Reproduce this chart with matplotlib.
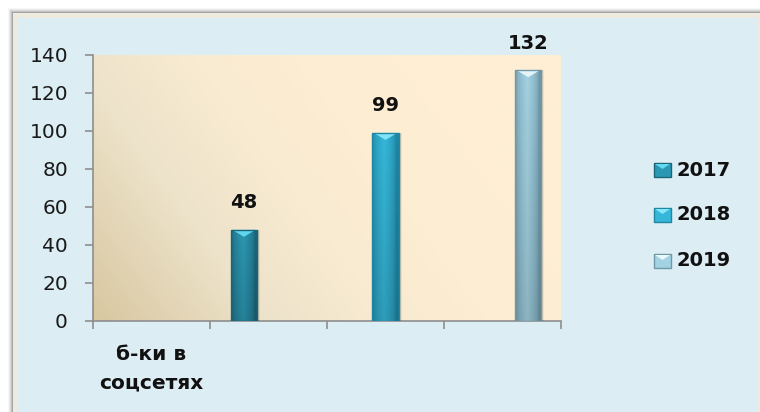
import numpy as np
import matplotlib
matplotlib.use("Agg")
import matplotlib.pyplot as plt
from matplotlib.patches import Rectangle, Polygon
from matplotlib.colors import to_rgb

# ---- data ----
categories = ["б-ки в\nсоцсетях"]
series_names = ["2017", "2018", "2019"]
series_values = [48, 99, 132]
y_ticks = [0, 20, 40, 60, 80, 100, 120, 140]

# ---- styles ----
bar_positions = [1.29, 2.50, 3.72]
bar_width = 0.225
bar_base = ["#2C97B2", "#36B7D9", "#A3D2E3"]
bar_dark = ["#1B6579", "#1F86A3", "#6F98A8"]
bar_light = ["#63DAF2", "#86E6FA", "#EAF8FC"]

W, H = 760, 412
fig = plt.figure(figsize=(W / 100, H / 100), dpi=100)
fig.patch.set_facecolor("white")

def fx(px):
    return px / W

def fy(py):
    return 1 - py / H

# soft shadow & chart box
for i, a in enumerate([0.03, 0.05, 0.07, 0.10, 0.14]):
    off = 5 - i
    fig.patches.append(Rectangle((fx(13 - off), fy(H + 10)), fx(770) - fx(13 - off),
                                 fy(13 - off) - fy(H + 10), transform=fig.transFigure,
                                 facecolor="black", alpha=a, edgecolor="none", zorder=0))
fig.patches.append(Rectangle((fx(13), fy(H + 10)), fx(770) - fx(13), fy(13) - fy(H + 10),
                             transform=fig.transFigure, facecolor="#EEEAE0",
                             edgecolor="none", zorder=1))
fig.patches.append(Rectangle((fx(17.5), fy(H + 10)), fx(757.5) - fx(17.5), fy(18) - fy(H + 10),
                             transform=fig.transFigure, facecolor="#DCEDF3",
                             edgecolor="none", zorder=2))

ax = fig.add_axes([fx(93), fy(321), fx(561) - fx(93), fy(55) - fy(321)])
ax.set_zorder(5)
ax.patch.set_alpha(0)
ax.set_xlim(0, 4)
ax.set_ylim(0, 140)

# plot-area gradient (diagonal, several stops)
nx, ny = 240, 140
u = np.linspace(0, 1, nx)[None, :]
v = np.linspace(0, 1, ny)[:, None]
t = np.clip((u * 0.95 + v * 0.4) / 1.0, 0, 1)
stops = [(0.0, "#D8C7A0"), (0.35, "#EDE3CA"), (0.6, "#F8EBD1"), (0.8, "#FDEDD2"), (1.0, "#FEEED3")]
img = np.zeros((ny, nx, 3))
for k in range(3):
    xs = [s for s, _ in stops]
    ys = [to_rgb(c)[k] for _, c in stops]
    img[..., k] = np.interp(t, xs, ys)
ax.imshow(img, extent=(0, 4, 0, 140), origin="lower", aspect="auto", zorder=0,
          interpolation="bilinear")

# bars
bars = ax.bar(bar_positions, series_values, width=bar_width, zorder=3)
tri_depth = 7 * 140 / 266
px_x = 4 / 468
for b, val, base, dark, light in zip(bars, series_values, bar_base, bar_dark, bar_light):
    x0 = b.get_x()
    x1 = x0 + b.get_width()
    b.set_facecolor(base)
    b.set_edgecolor("none")
    # soft shadow to the right
    for k, a in enumerate([0.06, 0.10, 0.14]):
        ax.add_patch(Rectangle((x0 + px_x * (3 - k), 0), x1 - x0, val, facecolor="black",
                               alpha=a, edgecolor="none", zorder=2.8))
    # gradient: horizontal edge darkening + vertical darkening to bottom
    s = np.linspace(0, 1, 60)
    prof = np.clip(1 - np.abs(s - 0.45) * 2.3, 0, 1) ** 0.5
    vv = np.linspace(0, 1, 80)[:, None]
    c0 = np.array(to_rgb(dark))
    c1 = np.array(to_rgb(base))
    grad = c0[None, None, :] * (1 - prof[None, :, None]) + c1[None, None, :] * prof[None, :, None]
    shade = 0.86 + 0.14 * vv
    grad = grad * shade[..., None]
    im = ax.imshow(grad, extent=(x0, x1, 0, val), origin="lower",
                   aspect="auto", zorder=3.5, interpolation="bilinear")
    im.set_clip_path(b)
    # top highlight triangle
    ax.add_patch(Polygon([(x0 + 0.012, val), (x1 - 0.012, val), ((x0 + x1) / 2, val - tri_depth)],
                         closed=True, facecolor=light, edgecolor="none", zorder=4, alpha=0.95))
    ax.add_patch(Rectangle((x0, 0), x1 - x0, val, facecolor="none", edgecolor=dark,
                           lw=1.0, zorder=4.5))
    ax.annotate(str(val), xy=((x0 + x1) / 2, val), xytext=(0, 19.5),
                textcoords="offset points", ha="center", va="center",
                fontsize=14, fontweight="bold", color="#111111", zorder=6)

# axes styling
for side in ["top", "right"]:
    ax.spines[side].set_visible(False)
for side in ["left", "bottom"]:
    ax.spines[side].set_color("#8E8E8E")
    ax.spines[side].set_linewidth(1.2)
ax.set_yticks(y_ticks)
ax.set_yticklabels([str(v) for v in y_ticks])
ax.tick_params(axis="y", direction="out", length=6, width=1.2, color="#8E8E8E",
               labelsize=14.5, pad=12, labelcolor="#1A1A1A")
ax.set_xticks([0, 1, 2, 3, 4])
ax.set_xticklabels([])
ax.tick_params(axis="x", direction="out", length=6, width=1.2, color="#8E8E8E")

# category label
ax.text(0.5, -0.09, categories[0], transform=ax.get_xaxis_transform(), ha="center",
        va="top", fontsize=14.5, fontweight="bold", color="#111111", linespacing=1.65)

# legend
leg_y = [170, 215, 261]
for name, base, dark, light, py in zip(series_names, bar_base, bar_dark, bar_light, leg_y):
    sx0, sx1 = 654, 671
    sy0, sy1 = py - 7, py + 7
    fig.patches.append(Rectangle((fx(sx0), fy(sy1)), fx(sx1) - fx(sx0), fy(sy0) - fy(sy1),
                                 transform=fig.transFigure, facecolor=base,
                                 edgecolor=dark, lw=1.0, zorder=10))
    fig.patches.append(Polygon([(fx(sx0 + 1), fy(sy0 + 1)), (fx(sx1 - 1), fy(sy0 + 1)),
                                (fx((sx0 + sx1) / 2), fy(sy0 + 6))],
                               closed=True, transform=fig.transFigure, facecolor=light,
                               edgecolor="none", zorder=11))
    fig.text(fx(677), fy(py), name, ha="left", va="center", fontsize=14,
             fontweight="bold", color="#111111", zorder=12)

fig.savefig("out.png", dpi=100, facecolor=fig.get_facecolor())
